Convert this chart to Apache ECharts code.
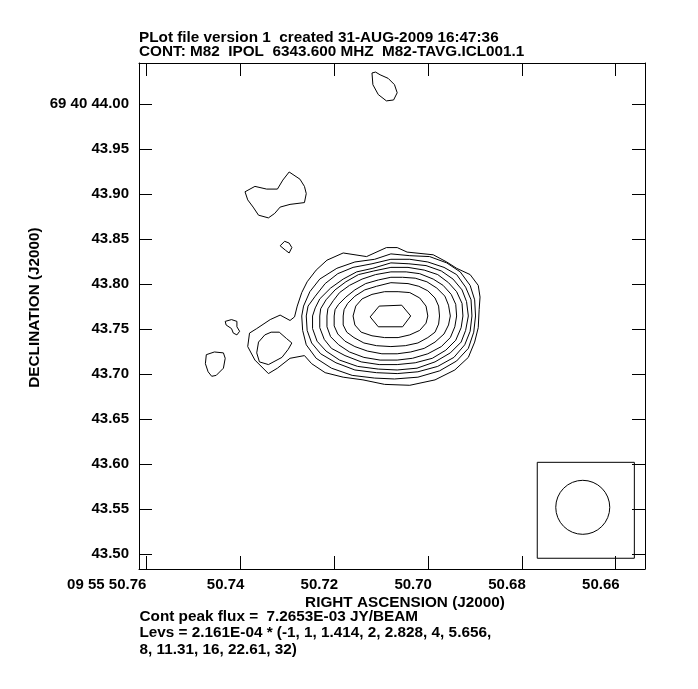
<!DOCTYPE html>
<html>
<head>
<meta charset="utf-8">
<title>M82 IPOL contour</title>
<script src="https://cdn.jsdelivr.net/npm/echarts@6.0.0/dist/echarts.min.js"></script>
<style>
html,body{margin:0;padding:0;background:#ffffff;}
#chart{width:698px;height:689px;}
</style>
</head>
<body>
<div id="chart"></div>
<script>
// ---------------- data ----------------
const raTicks = [50.66, 50.68, 50.70, 50.72, 50.74, 50.76];   // RA seconds (09 55 ss.ss)
const decTicks = [43.50, 43.55, 43.60, 43.65, 43.70, 43.75, 43.80, 43.85, 43.90, 43.95, 44.00]; // Dec arcsec (69 40 ss.ss)
const raLimits = [50.65373, 50.76160];
const decLimits = [43.48367, 44.04589];

const titleLines = [
  'PLot file version 1  created 31-AUG-2009 16:47:36',
  'CONT: M82  IPOL  6343.600 MHZ  M82-TAVG.ICL001.1'
];
const footerLines = [
  'Cont peak flux =  7.2653E-03 JY/BEAM',
  'Levs = 2.161E-04 * (-1, 1, 1.414, 2, 2.828, 4, 5.656,',
  '8, 11.31, 16, 22.61, 32)'
];
const xAxisTitle = 'RIGHT ASCENSION (J2000)';
const yAxisTitle = 'DECLINATION (J2000)';

// reference position of the offsets below: 09 55 50.7079  69 40 43.7648
const refRA = 50.7079;
const refDec = 43.7648;
const decDegrees = 69 + 40 / 60 + 43.7648 / 3600;

// contour vertices: [east, north] offsets in milliarcsec from the reference position
const contourMain1 = [[5,76],[-7,76],[-18,71],[-47,68],[-62,60],[-73,53],[-88,46],[-97,34],[-99,21],[-98,7],[-97,-13],[-93,-29],[-86,-46],[-71,-60],[-49,-71],[-21,-77],[7,-76],[31,-71],[53,-68],[73,-63],[88,-53],[96,-44],[112,-47],[126,-58],[136,-64],[151,-49],[159,-34],[157,-19],[149,-14],[134,-4],[123,1],[112,-5],[107,-1],[104,11],[99,26],[93,38],[83,51],[71,62],[53,70],[27,66],[5,76]];
const contourMain2 = [[-94,0],[-93,18],[-88,34],[-77,49],[-62,59],[-43,66],[-21,67],[0,69],[18,63],[40,60],[60,53],[79,41],[90,27],[97,11],[99,0],[98,-16],[94,-32],[83,-47],[66,-58],[43,-66],[18,-69],[-4,-70],[-30,-68],[-54,-61],[-73,-50],[-86,-36],[-92,-18],[-94,0]];
const contourMain3 = [[-90,0],[-89,18],[-83,32],[-73,46],[-59,54],[-41,60],[-21,63],[0,63],[21,58],[42,54],[59,47],[73,36],[84,22],[92,11],[94,0],[93,-16],[88,-30],[78,-42],[61,-52],[40,-60],[16,-63],[-7,-64],[-30,-62],[-52,-56],[-70,-46],[-82,-32],[-88,-17],[-90,0]];
const contourMain4 = [[-86,0],[-84,16],[-79,29],[-69,41],[-56,50],[-39,56],[-20,58],[0,59],[20,53],[38,49],[53,41],[67,31],[79,19],[84,9],[87,0],[87,-14],[82,-28],[72,-39],[57,-49],[37,-56],[14,-59],[-7,-60],[-29,-58],[-49,-51],[-66,-41],[-78,-29],[-83,-16],[-86,0]];
const contourMain5 = [[-80,0],[-79,14],[-73,27],[-64,37],[-52,46],[-37,51],[-19,54],[0,54],[19,50],[36,46],[50,38],[62,29],[72,18],[78,8],[79,0],[79,-13],[74,-26],[66,-36],[51,-44],[33,-51],[13,-54],[-7,-54],[-27,-52],[-46,-47],[-61,-38],[-72,-27],[-78,-13],[-80,0]];
const contourMain6 = [[-73,0],[-72,13],[-67,24],[-58,34],[-47,41],[-32,47],[-17,49],[0,49],[17,46],[32,41],[46,34],[57,26],[64,17],[70,8],[71,0],[71,-12],[67,-23],[58,-32],[46,-40],[30,-46],[12,-49],[-7,-49],[-24,-47],[-41,-42],[-56,-34],[-66,-24],[-71,-12],[-73,0]];
const contourMain7 = [[-66,0],[-64,12],[-60,22],[-51,31],[-40,38],[-27,42],[-13,43],[0,43],[14,40],[28,36],[40,29],[50,21],[58,13],[62,7],[63,0],[63,-11],[59,-20],[51,-28],[40,-34],[26,-39],[10,-42],[-7,-42],[-22,-40],[-37,-36],[-49,-29],[-59,-20],[-64,-10],[-66,0]];
const contourMain8 = [[-54,0],[-53,11],[-49,20],[-41,28],[-31,33],[-19,36],[0,37],[16,33],[29,29],[40,22],[48,14],[52,7],[53,0],[53,-10],[49,-18],[41,-24],[30,-30],[16,-33],[0,-34],[-16,-33],[-30,-30],[-41,-24],[-49,-18],[-53,-9],[-54,0]];
const contourMain9 = [[-41,0],[-39,11],[-32,20],[-21,26],[-8,27],[7,27],[21,24],[32,19],[39,11],[42,0],[40,-10],[33,-18],[21,-22],[7,-24],[-8,-24],[-21,-21],[-32,-16],[-39,-8],[-41,0]];
const contourMain10 = [[-22,0],[-12,12],[13,11],[23,-1],[14,-12],[-13,-12],[-22,0]];
const contourWestKnot = [[147,-29],[140,-21],[133,-18],[124,-18],[116,-25],[110,-30],[114,-37],[121,-46],[136,-54],[146,-51],[149,-41],[147,-29]];
const contourNorthWest = [[162,138],[151,144],[138,141],[126,141],[120,151],[113,160],[101,152],[96,144],[94,136],[96,126],[112,124],[123,121],[129,114],[136,109],[147,112],[153,121],[159,129],[162,138]];
const contourSmallNW = [[123,78],[118,83],[113,81],[110,76],[113,70],[117,73],[123,78]];
const contourSmallW = [[184,-6],[177,-4],[171,-6],[171,-12],[168,-17],[171,-21],[175,-19],[177,-14],[183,-10],[184,-6]];
const contourFarW = [[205,-43],[196,-40],[186,-41],[184,-47],[186,-58],[194,-66],[199,-67],[203,-62],[206,-53],[205,-43]];
const contourNorth = [[21,270],[20,257],[14,246],[5,239],[-3,240],[-7,248],[-4,257],[3,264],[12,268],[17,271],[21,270]];

const contourList = [contourMain1, contourMain2, contourMain3, contourMain4, contourMain5,
  contourMain6, contourMain7, contourMain8, contourMain9, contourMain10,
  contourWestKnot, contourNorthWest, contourSmallNW, contourSmallW, contourFarW, contourNorth];

// restoring beam
const beamBoxRA = [50.6560, 50.6767];
const beamBoxDec = [43.4956, 43.6022];
const beamCentre = [50.6670, 43.5522];
const beamFWHMArcsec = 0.060;

// ---------------- chart ----------------
const FONT = '"Liberation Sans", Arial, Helvetica, sans-serif';
const raPerMas = 1 / (1000 * 15 * Math.cos(decDegrees * Math.PI / 180));
function toSky(p) { return [refRA + p[0] * raPerMas, refDec + p[1] / 1000]; }

const gridBox = { left: 139, right: 53, top: 63, bottom: 120 };
const plotHeightPx = 689 - gridBox.top - gridBox.bottom;
const pxPerArcsec = plotHeightPx / (decLimits[1] - decLimits[0]);

const lineStyle = { color: '#000', width: 1 };
const series = contourList.map(c => ({
  type: 'line', data: c.map(toSky), symbol: 'none', showSymbol: false,
  silent: true, animation: false, lineStyle: lineStyle, z: 3
}));
series.push({
  type: 'line', symbol: 'none', showSymbol: false, silent: true, animation: false,
  lineStyle: lineStyle, z: 4,
  data: [[beamBoxRA[0], beamBoxDec[0]], [beamBoxRA[1], beamBoxDec[0]], [beamBoxRA[1], beamBoxDec[1]],
         [beamBoxRA[0], beamBoxDec[1]], [beamBoxRA[0], beamBoxDec[0]]]
});
series.push({
  type: 'scatter', data: [beamCentre], symbol: 'circle',
  symbolSize: beamFWHMArcsec * pxPerArcsec, silent: true, animation: false, z: 4,
  itemStyle: { color: 'rgba(0,0,0,0)', borderColor: '#000', borderWidth: 1, opacity: 1 }
});

function near(a, b) { return Math.abs(a - b) < 1e-6; }
const tickLabelStyle = { color: '#000', fontFamily: FONT, fontWeight: 'bold', fontSize: 15 };

function xAxisDef(pos, withLabels) {
  return {
    type: 'value', position: pos, min: raLimits[0], max: raLimits[1], inverse: true,
    axisLine: { show: true, onZero: false, lineStyle: { color: '#000', width: 1 } },
    axisTick: { show: true, inside: true, length: 13, customValues: raTicks, lineStyle: { color: '#000', width: 1 } },
    axisLabel: Object.assign({
      show: withLabels, customValues: raTicks, margin: 8, align: 'right', padding: [0, -4, 0, 0],
      formatter: v => near(v, 50.76) ? '09 55 50.76 ' : v.toFixed(2)
    }, tickLabelStyle),
    splitLine: { show: false }, minorTick: { show: false }
  };
}
function yAxisDef(pos, withLabels) {
  return {
    type: 'value', position: pos, min: decLimits[0], max: decLimits[1],
    axisLine: { show: true, onZero: false, lineStyle: { color: '#000', width: 1 } },
    axisTick: { show: true, inside: true, length: 13, customValues: decTicks, lineStyle: { color: '#000', width: 1 } },
    axisLabel: Object.assign({
      show: withLabels, customValues: decTicks, margin: 10, padding: [4, 0, 0, 0],
      formatter: v => near(v, 44.0) ? '69 40 44.00' : v.toFixed(2)
    }, tickLabelStyle),
    splitLine: { show: false }, minorTick: { show: false }
  };
}

const textFont = 'bold 15.3px ' + FONT;
function txt(s, x, y, align, rot) {
  const el = { type: 'text', x: x, y: y, silent: true,
    style: { text: s, fill: '#000', font: textFont, textAlign: align, textVerticalAlign: 'middle' } };
  if (rot) el.rotation = rot;
  return el;
}
const graphics = [
  txt(titleLines[0], 139, 37.5, 'left'),
  txt(titleLines[1], 139, 52, 'left'),
  txt(xAxisTitle, 405, 603, 'center'),
  txt(yAxisTitle, 34.6, 307.5, 'center', Math.PI / 2),
  txt(footerLines[0], 139.5, 617, 'left'),
  txt(footerLines[1], 139.5, 632.8, 'left'),
  txt(footerLines[2], 139.5, 649.3, 'left')
];

const chart = echarts.init(document.getElementById('chart'), null, { renderer: 'canvas' });
chart.setOption({
  animation: false,
  backgroundColor: '#ffffff',
  grid: Object.assign({ containLabel: false, outerBoundsMode: 'none', show: false }, gridBox),
  xAxis: [xAxisDef('bottom', true), xAxisDef('top', false)],
  yAxis: [yAxisDef('left', true), yAxisDef('right', false)],
  series: series,
  graphic: graphics
});
</script>
</body>
</html>
